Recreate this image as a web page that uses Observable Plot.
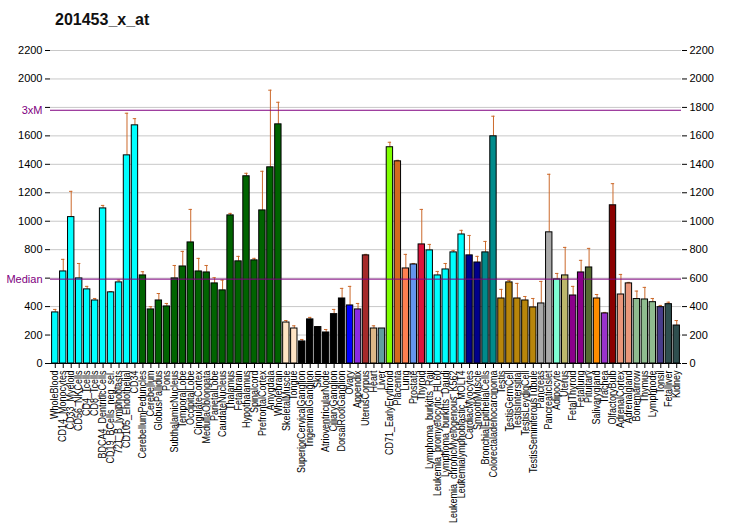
<!DOCTYPE html>
<html><head><meta charset="utf-8">
<script src="https://cdn.jsdelivr.net/npm/d3@7"></script>
<script src="https://cdn.jsdelivr.net/npm/@observablehq/plot@0.6"></script>
<style>
body{margin:0;background:#fff;font-family:"Liberation Sans",Arial,sans-serif;}
#wrap{position:relative;width:732px;height:530px;}
#title{position:absolute;left:55px;top:11px;font-size:16px;font-weight:bold;color:#111;}
#chart{position:absolute;left:0;top:0;}
</style></head>
<body><div id="wrap"><div id="chart"></div><div id="title">201453_x_at</div></div>
<script>
const names = ["WholeBlood","CD14_Monocytes","CD33_Myeloid","CD56_NKCells","CD4_Tcells","CD8_Tcells","BDCA4_DentriticCells","CD19_BCells_neg_sel.","721_B_lymphoblasts","CD105_Endothelial","CD34",
"CerebellumPeduncles","Cerebellum","GlobusPallidus","Pons","SubthalamicNucleus","TemporalLobe","OccipitalLobe","CingulateCortex","MedullaOblongata","ParietalLobe","CaudateNucleus","Thalamus","Fetalbrain","Hypothalamus","Spinalcord","PrefrontalCortex","Amygdala","Wholebrain",
"SkeletalMuscle","Tongue","SuperiorCervicalGanglion","TrigeminalGanglion","Skin","AtrioventricularNode","CiliaryGanglion","DorsalRootGanglion","Ovary","Appendix","UterusCorpus","Heart","Liver","CD71_EarlyErythroid","Placenta","Lung","Prostate","Thyroid",
"Lymphoma_burkitts_Raji","Leukemia_promyelocytic_HL60","Lymphoma_burkitts_Daudi","Leukemia_chronicMyelogenous_K562","Leukemialymphoblastic_MOLT4","CardiacMyocytes","SmoothMuscle","BronchialEpithelialCells","Colorectaladenocarcinoma",
"Testis","TestisGermCell","TestisIntersitial","TestisLeydigCell","TestisSeminiferousTubule","Pancreas","PancreaticIslet","Adipocyte","Uterus","FetalThyroid","Fetallung","Pituitary","Salivarygland","Trachea","OlfactoryBulb","AdrenalCortex","Adrenalgland","Bonemarrow","Thymus","Lymphnode","Tonsil","Fetalliver","Kidney"];
const values = [359,647,1029,598,521,443,1090,500,570,1463,1674,
619,380,443,401,598,682,851,647,640,563,514,1041,718,1316,725,1076,1379,1681,
288,246,155,310,256,218,347,457,408,380,760,246,246,1520,1421,668,696,837,
795,619,661,781,907,760,710,781,1597,
457,570,457,443,394,422,922,591,619,478,640,675,457,352,1112,485,563,453,450,431,396,417,267];
const errs = [380,732,1210,703,542,457,1111,506,586,1759,1721,
645,399,492,422,689,788,1083,739,689,603,586,1055,753,1337,739,1351,1921,1836,
302,265,169,324,260,239,380,528,542,422,767,265,246,1555,1428,767,703,1083,
837,647,703,795,936,900,753,858,1738,
521,584,563,471,457,577,1330,633,816,542,725,809,485,359,1264,626,570,509,535,457,408,431,302];
const colors = [
"#00FFFF","#00FFFF","#00FFFF","#00FFFF","#00FFFF","#00FFFF","#00FFFF","#00FFFF","#00FFFF","#00FFFF","#00FFFF",
"#006400","#006400","#006400","#006400","#006400","#006400","#006400","#006400","#006400","#006400","#006400","#006400","#006400","#006400","#006400","#006400","#006400","#006400",
"#FFE4C4","#FFE4C4","#000000","#000000","#000000","#000000","#000000","#000000","#0000FF","#8A2BE2","#A52A2A","#DEB887","#5F9EA0","#7FFF00","#D2691E","#FF7F50","#6495ED","#DC143C",
"#00FFFF","#00FFFF","#00FFFF","#00FFFF","#00FFFF","#00008B","#00008B","#008B8B","#008B8B",
"#B8860B","#B8860B","#B8860B","#B8860B","#B8860B","#A9A9A9","#A9A9A9","#7FFFD4","#BDB76B","#8B008B","#8B008B","#556B2F","#FF8C00","#9932CC","#8B0000","#E9967A","#E9967A","#8FBC8F","#8FBC8F","#8FBC8F","#483D8B","#2F4F4F","#2F4F4F"];
const yTicks = [0,200,400,600,800,1000,1200,1400,1600,1800,2000,2200];
const median = 593;
const threeXM = 1780;
const refLines = [{v: median, label: "Median"}, {v: threeXM, label: "3xM"}];

const data = names.map((n, i) => ({name: n, value: values[i], err: errs[i], color: colors[i]}));

const chart = Plot.plot({
  width: 732, height: 530,
  marginTop: 50, marginBottom: 167, marginLeft: 50, marginRight: 51,
  style: {fontFamily: "'Liberation Sans', Arial, sans-serif", fontSize: "11px", background: "transparent"},
  x: {type: "band", domain: names, padding: 0.2, align: 0.5},
  y: {domain: [0, 2200]},
  marks: [
    Plot.ruleY(yTicks, {stroke: "#c8c8c8", strokeWidth: 1}),
    Plot.ruleX(data, {x: "name", y1: "value", y2: "err", stroke: "#cc6a2c", strokeWidth: 1}),
    Plot.tickY(data.filter(d => d.err > d.value), {x: "name", y: "err", stroke: "#cc6a2c", strokeWidth: 1, insetLeft: 1.5, insetRight: 1.5}),
    Plot.barY(data, {x: "name", y: "value", fill: "color", stroke: "#000", strokeWidth: 1}),
    Plot.ruleY(refLines, {y: "v", stroke: "#800080", strokeWidth: 1}),
    Plot.text(refLines, {y: "v", text: "label", frameAnchor: "left", textAnchor: "end", dx: -8, fill: "#800080", fontSize: 11}),
    Plot.ruleY([0], {stroke: "#000"}),
    Plot.axisY({anchor: "left", ticks: yTicks, tickSize: 5, tickPadding: 3, line: true, label: null, stroke: "#000", fill: "#000",
      tickFormat: d => (d === 600 || d === 1800) ? "" : String(d)}),
    Plot.axisY({anchor: "right", ticks: yTicks, tickSize: 5, tickPadding: 3, line: true, label: null, stroke: "#000", fill: "#000",
      tickFormat: d => String(d)}),
    Plot.axisX({tickRotate: -90, tickSize: 5, tickPadding: 2, label: null, fontSize: 10, fill: "#000"})
  ]
});
document.getElementById("chart").appendChild(chart);
d3.select(chart).selectAll("g[aria-label='x-axis tick label'] text").each(function() {
  const t = this.getAttribute("transform") || "";
  this.setAttribute("transform", t + " scale(0.9,1)");
});
</script>
</body></html>
